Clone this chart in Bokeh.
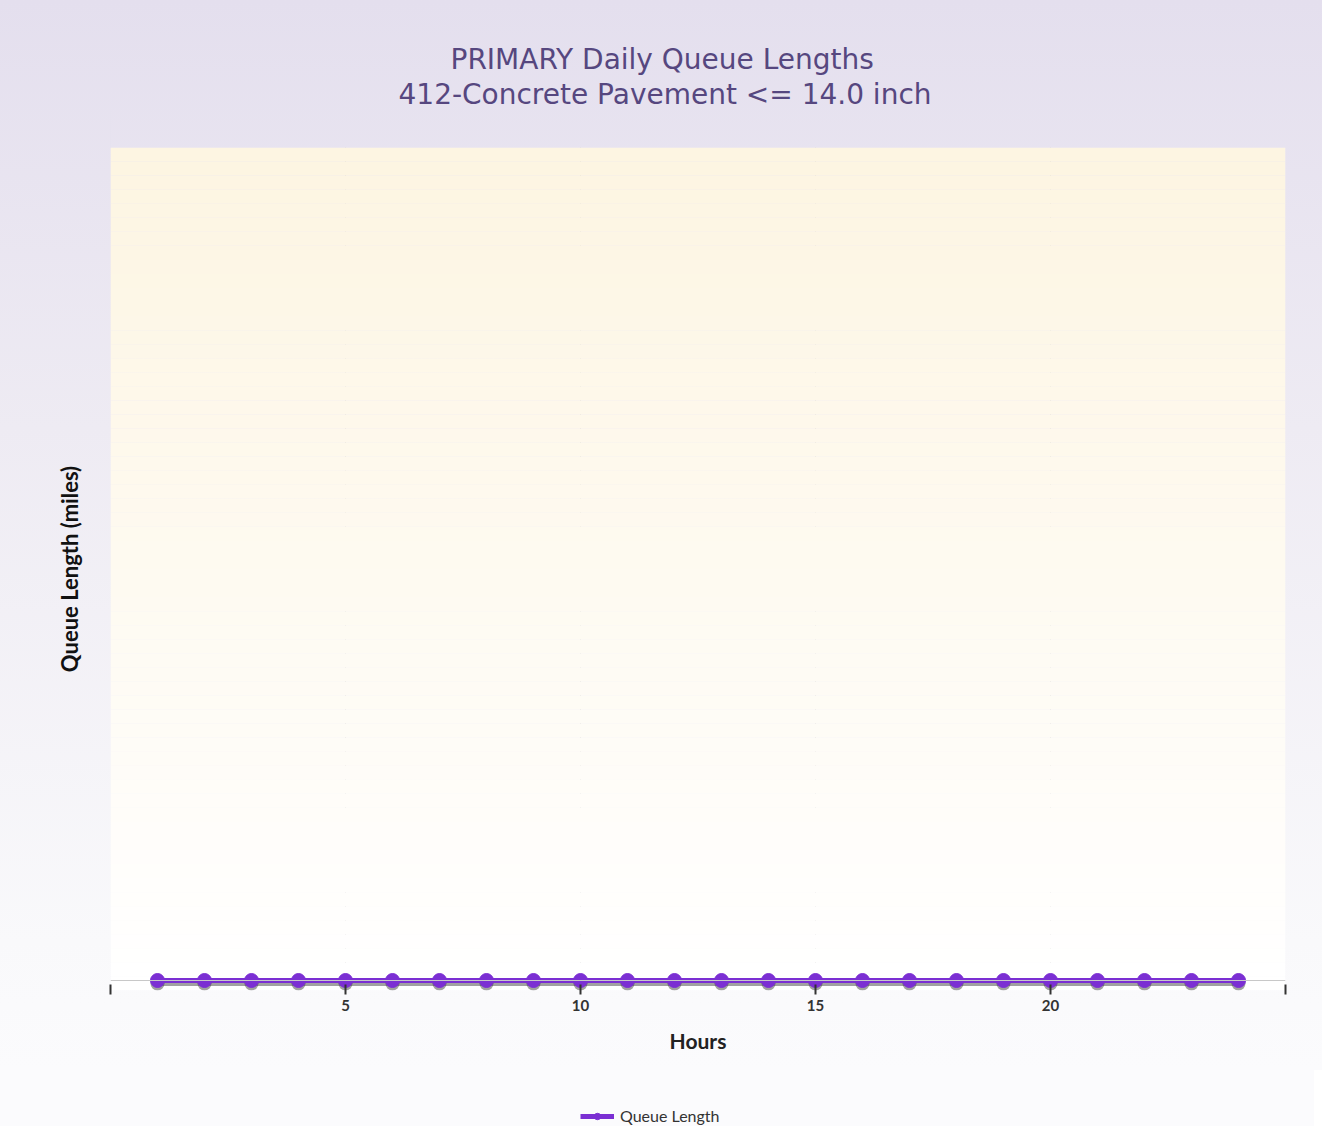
from bokeh.plotting import figure
from bokeh.layouts import column
from bokeh.models import (Range1d, FixedTicker, Title, Legend, LegendItem, BoxAnnotation, Span,
                          LinearAxis)
from bokeh.embed import file_html
from bokeh.resources import INLINE

# ---- data ----
hours = [1, 2, 3, 4, 5, 6, 7, 8, 9, 10, 11, 12, 13, 14, 15, 16, 17, 18, 19, 20, 21, 22, 23, 24]
queue_length = [0, 0, 0, 0, 0, 0, 0, 0, 0, 0, 0, 0, 0, 0, 0, 0, 0, 0, 0, 0, 0, 0, 0, 0]
x_ticks = [0, 5, 10, 15, 20, 25]
x_tick_labels = ["", "5", "10", "15", "20", ""]
title_line1 = "PRIMARY Daily Queue Lengths"
title_line2 = "412-Concrete Pavement <= 14.0 inch"
series_name = "Queue Length"

LINE_COLOR = "#7B2FD3"
TITLE_COLOR = "#56477F"

p = figure(
    frame_width=1175, frame_height=843,
    min_border_left=110, min_border_right=37, min_border_top=147, min_border_bottom=80,
    x_range=Range1d(0, 25), y_range=Range1d(-0.012, 1),
    output_backend="svg", toolbar_location=None, title=None,
)
p.extra_y_ranges = {"shadow": Range1d(-0.0084, 1.0036)}

p.border_fill_alpha = 0
p.background_fill_alpha = 0
p.outline_line_color = None
p.styles = {"background": "linear-gradient(to bottom, #E4DFEE 0%, #EEEBF3 40%, #F9F9FB 88%, #FBFBFD 100%)"}

# frame gradient (cream -> white)
n = 60
c0 = (253, 245, 226)
c1 = (255, 255, 255)
for i in range(n):
    t = i / (n - 1)
    r = round(c0[0] + (c1[0] - c0[0]) * t)
    g = round(c0[1] + (c1[1] - c0[1]) * t)
    b = round(c0[2] + (c1[2] - c0[2]) * t)
    top = 1 - i * 1.012 / n
    bot = 1 - (i + 1) * 1.012 / n
    p.add_layout(BoxAnnotation(top=top, bottom=bot, fill_color=f"#{r:02x}{g:02x}{b:02x}",
                               fill_alpha=1, line_color=None, level="underlay"))

# x axis (main, below)
xa = p.below[0]
xa.ticker = FixedTicker(ticks=x_ticks)
xa.major_label_overrides = dict(zip(x_ticks, x_tick_labels))
xa.axis_label = "Hours"
xa.axis_label_text_font = "Lato"
xa.axis_label_text_font_style = "bold"
xa.axis_label_text_font_size = "21px"
xa.axis_label_text_color = "#222222"
xa.axis_label_standoff = 14
xa.major_label_text_font = "Lato"
xa.major_label_text_font_style = "bold"
xa.major_label_text_font_size = "15px"
xa.major_label_text_color = "#333333"
xa.axis_line_color = None
xa.major_tick_line_color = "#333333"
xa.major_tick_line_width = 2
xa.major_tick_in = 6
xa.major_tick_out = 4
xa.minor_tick_line_color = None

# y axis
ya = p.left[0]
ya.ticker = FixedTicker(ticks=[])
ya.axis_label = "Queue Length (miles)"
ya.axis_label_text_font = "Lato"
ya.axis_label_text_font_style = "bold"
ya.axis_label_text_font_size = "22px"
ya.axis_label_text_color = "#111111"
ya.axis_label_standoff = 28
ya.major_tick_line_color = None
ya.minor_tick_line_color = None
ya.axis_line_color = None

p.xgrid.ticker = FixedTicker(ticks=x_ticks)
p.xgrid.grid_line_color = "#C6C6C6"
p.ygrid.grid_line_color = None

# spacer between frame and titles: an axis above with one tick drawn in the background colour
spacer = LinearAxis(ticker=FixedTicker(ticks=[0]), axis_line_color=None,
                    major_tick_line_color="#E6E2EF", major_tick_line_width=1,
                    minor_tick_line_color=None, major_label_text_color=None,
                    major_label_overrides={0: ""},
                    major_tick_out=37, major_tick_in=0)
p.add_layout(spacer, "above")

# titles
p.add_layout(Title(text=title_line2, align="left", offset=288, text_font="DejaVu Sans",
                   text_font_size="28px", text_font_style="normal", text_color=TITLE_COLOR,
                   standoff=0), "above")
p.add_layout(Title(text=title_line1, align="left", offset=340, text_font="DejaVu Sans",
                   text_font_size="28px", text_font_style="normal", text_color=TITLE_COLOR,
                   standoff=0), "above")

p.add_layout(Span(location=0, dimension="width", line_color="#C8C8C8", line_width=1))

# shadow
p.line(hours, queue_length, y_range_name="shadow", line_color="#444444", line_alpha=0.5, line_width=5)
p.scatter(hours, queue_length, y_range_name="shadow", size=14, fill_color="#444444",
          fill_alpha=0.5, line_color=None)

# series
p.line(hours, queue_length, line_color=LINE_COLOR, line_width=5)
p.scatter(hours, queue_length, size=14, fill_color=LINE_COLOR, line_color=LINE_COLOR)

# ---- legend strip below the chart ----
p2 = figure(width=1314, height=56, x_range=Range1d(0, 25), y_range=Range1d(1, 2),
            output_backend="svg", toolbar_location=None, title=None,
            x_axis_location=None, y_axis_location=None, min_border=0)
p2.grid.visible = False
p2.outline_line_color = None
p2.border_fill_alpha = 0
p2.background_fill_alpha = 0
p2.styles = {"background": "#FBFBFD"}

ln2 = p2.line(hours, queue_length, line_color=LINE_COLOR, line_width=5)
sc2 = p2.scatter(hours, queue_length, size=10, fill_color=LINE_COLOR, line_color=LINE_COLOR)

legend = Legend(items=[LegendItem(label=series_name, renderers=[ln2, sc2])],
                location=(470, 1), orientation="horizontal",
                background_fill_alpha=0, border_line_color=None,
                label_text_font="Lato", label_text_font_size="16px",
                label_text_color="#333333", glyph_width=34, glyph_height=16,
                margin=0, padding=2, label_standoff=6)
p2.add_layout(legend, "center")

layout = column(p, p2, spacing=0)

open("out.html", "w").write(file_html(layout, INLINE))
